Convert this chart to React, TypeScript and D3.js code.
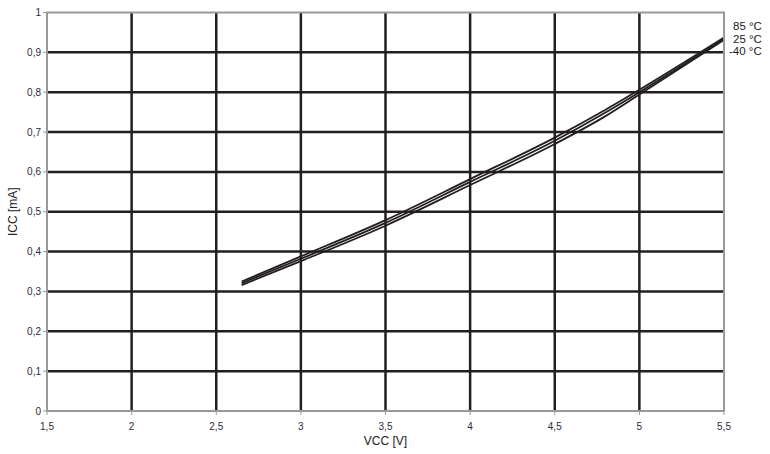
import React from "react";
import * as d3 from "d3";

const vcc = [2.65, 3.0, 3.5, 4.0, 4.5, 4.8, 5.0, 5.5];
const icc85 = [0.325, 0.388, 0.479, 0.582, 0.686, 0.756, 0.806, 0.937];
const icc25 = [0.321, 0.382, 0.472, 0.575, 0.678, 0.749, 0.8, 0.934];
const iccM40 = [0.316, 0.376, 0.465, 0.567, 0.67, 0.74, 0.794, 0.931];
const seriesLabels = ["85 °C", "25 °C", "-40 °C"];
const xTicks = [1.5, 2, 2.5, 3, 3.5, 4, 4.5, 5, 5.5];
const yTicks = [0, 0.1, 0.2, 0.3, 0.4, 0.5, 0.6, 0.7, 0.8, 0.9, 1];

const W = 770, H = 454;
const L = 47, R = 724, T = 12.5, B = 411;

export default function App() {
  const x = d3.scaleLinear().domain([1.5, 5.5]).range([L, R]);
  const y = d3.scaleLinear().domain([0, 1]).range([B, T]);
  const fmt = (v: number) => String(v).replace(".", ",");
  const series = [icc85, icc25, iccM40];
  const line = d3
    .line<number>()
    .x((_, i) => x(vcc[i]))
    .y((d) => y(d))
    .curve(d3.curveMonotoneX);
  const font = "Liberation Sans, Arial, sans-serif";
  const labelBase = [30, 42.5, 55];
  return (
    <svg width={W} height={H} style={{ position: "absolute", left: 0, top: 0 }} fontFamily={font}>
      <rect width={W} height={H} fill="#fff" />
      {xTicks.slice(1, -1).map((t) => (
        <line key={"vx" + t} x1={x(t)} x2={x(t)} y1={T} y2={B} stroke="#231f20" strokeWidth={2.5} />
      ))}
      {yTicks.slice(1, -1).map((t) => (
        <line key={"hy" + t} x1={L} x2={R} y1={y(t)} y2={y(t)} stroke="#231f20" strokeWidth={2.5} />
      ))}
      {series.map((s, i) => (
        <path key={"s" + i} d={line(s) || ""} fill="none" stroke="#231f20" strokeWidth={1.8} />
      ))}
      <rect x={L} y={T} width={R - L} height={B - T} fill="none" stroke="#999" strokeWidth={2} />
      {xTicks.map((t) => (
        <g key={"xt" + t}>
          <line x1={x(t)} x2={x(t)} y1={B} y2={B + 4} stroke="#999" strokeWidth={1} />
          <text x={x(t)} y={B + 19} fontSize={10} textAnchor="middle" fill="#2b2b3b">
            {fmt(t)}
          </text>
        </g>
      ))}
      {yTicks.map((t) => (
        <g key={"yt" + t}>
          <line x1={L - 4} x2={L} y1={y(t)} y2={y(t)} stroke="#999" strokeWidth={1} />
          <text x={L - 6} y={y(t) + 3.5} fontSize={10} textAnchor="end" fill="#2b2b3b">
            {fmt(t)}
          </text>
        </g>
      ))}
      <text x={(L + R) / 2} y={445} fontSize={12} textAnchor="middle" fill="#222">
        VCC [V]
      </text>
      <text
        transform={`translate(17,${(T + B) / 2}) rotate(-90)`}
        fontSize={12}
        textAnchor="middle"
        fill="#222"
      >
        ICC [mA]
      </text>
      {seriesLabels.map((lab, i) => (
        <text key={lab} x={lab.startsWith("-") ? 729 : 733} y={labelBase[i]} fontSize={11.5} fill="#222">
          {lab}
        </text>
      ))}
    </svg>
  );
}
